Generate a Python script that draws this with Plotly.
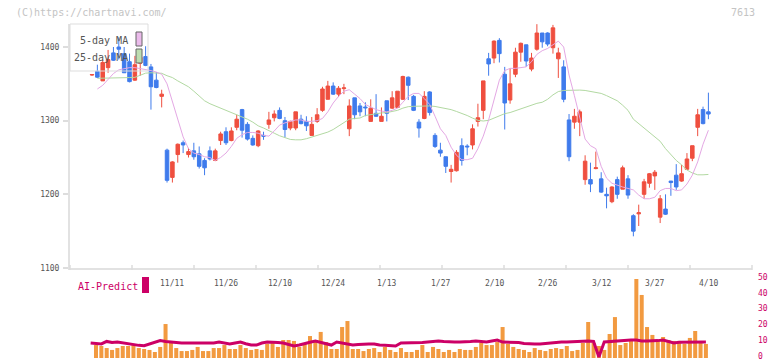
import plotly.graph_objects as go

W, H = 772, 361

# ---------------- data ----------------
opens = [1362,1367,1354,1372,1392,1400,1391,1380,1355,1378,1387,1373,1355,1333,1260,1223,1254,1270,1254,1259,
         1255,1246,1259,1246,1273,1285,1273,1291,1315,1295,1276,1266,1280,1295,1304,1314,1300,1290,1290,1302,
         1299,1280,1299,1314,1329,1347,1336,1343.5,1289,1331,1320,1318.5,1299,1310,1299,1327,1317,1318,1329,1359,
         1333,1298,1303,1339,1280,1260,1251,1231,1232,1266,1265.5,1267,1299,1314,1384,1385,1409,1363,1328,1363,
         1393,1403,1370,1397,1419,1419,1399,1384,1373,1301,1298,1298,1220,1220,1235,1221,1200,1190,1220,1207,
         1221,1171,1173.5,1200,1215,1225,1169,1180,1218,1226,1218,1234,1249,1291,1315,1312]
highs = [1363,1376,1382,1396,1400,1413,1400,1391,1388,1390,1401,1377,1366,1342,1262,1245,1269,1273,1263,1270,
         1265,1249,1265,1262,1285,1291,1291,1308,1316,1298,1280,1287,1285,1312,1314,1318,1305,1300,1312,1308,
         1306,1305,1317,1346,1354,1352,1347,1350,1329,1331,1324,1325,1329,1336,1318,1327,1340,1340,1361,1360,
         1335,1302,1340,1340,1283,1270,1251,1240,1260,1276,1268,1295,1323,1354,1392,1409,1412,1373,1371,1399,
         1406,1403,1392,1431,1419,1420,1430,1399,1382,1309,1316,1315,1253,1243,1258,1230,1209,1211,1224,1239,
         1226,1173,1186,1221,1229,1233,1199,1200,1218,1241,1240,1256,1266,1316,1319,1338]
lows = [1361,1358,1354,1365,1381,1383,1365,1352,1354,1361,1374,1315,1344,1318,1216,1216,1243,1256,1250,1247,
        1235,1226,1246,1245,1267,1267,1272,1287,1277,1273,1266,1264,1274,1289,1299,1302,1277,1287,1287,1295,
        1286,1280,1297,1312,1329,1335,1332,1336,1279,1302,1306,1306,1299,1305,1299,1299,1316,1317,1328,1328,
        1313,1277,1302,1307,1263,1251,1229,1216,1231,1239,1253,1261,1292,1302,1361,1378,1379,1288,1323,1359,
        1380,1373,1367,1395,1399,1401,1391,1358,1325,1245,1289,1279,1213,1203,1234,1202,1181,1188,1194,1207,
        1194,1143,1157,1194,1209,1206,1161,1172,1198,1206,1217,1233,1245,1279,1295,1302]
closes = [1362.5,1359,1379,1383,1382,1397,1365,1353,1376,1386,1375,1346,1345,1336,1219,1244,1268,1267,1258,1251,
          1238,1236,1248,1259,1282,1270,1286,1302,1287,1275,1267,1286,1279,1301,1309,1303,1288,1299,1312,1296,
          1293,1295,1308,1343,1347,1336,1344,1344.5,1320,1308,1312,1317.5,1317,1306,1306,1310,1331,1340,1360,1348,
          1314,1290,1333,1311,1265,1256,1238,1234,1257,1246,1264.5,1289,1304,1354,1377,1408,1391,1324,1350,1393,
          1405,1381,1385,1419,1407,1404,1426,1392,1329,1251,1306,1312,1245,1214,1236,1203,1198,1210,1200,1236,
          1199,1150,1175,1217,1228,1230,1194,1173,1216,1210,1228,1248,1266,1308,1296,1309]

ma5 = [None,1343,1348,1356,1364,1369,1371,1372,1372,1371,1370,1368,1366,1363,1350,1325,1300,1278,1262,1256,
       1254,1251,1250,1246,1250,1256,1265,1276,1281,1284,1284,1283,1280,1279,1286,1294,1297,1299,1301,1301,
       1299,1299,1300,1303,1312,1324,1333,1340,1342,1336,1330,1322,1318,1315,1313,1312,1314,1317,1325,1333,
       1337,1337,1330,1322,1306,1289,1280,1264,1253,1247,1247,1249,1262,1279,1301,1330,1355,1368,1371,1371,
       1372,1373,1380,1390,1395,1398,1403,1408,1400,1362,1334,1305,1275,1266,1262,1238,1222,1215,1212,1210,
       1208,1206,1199,1194,1194,1196,1205,1208,1208,1205,1206,1214,1226,1244,1268,1287]
ma25 = [None,1357.5,1357.5,1357.6,1357.8,1358,1358.2,1358.5,1358.8,1361.5,1364.5,1365,1364.8,1364.3,1361,1358.5,1354,1350,1346,1340,
        1333,1327,1323,1320,1317,1315,1312,1308.5,1305,1302,1298,1293,1290,1287,1283,1279.5,1276.5,1274.5,1274,1274,
        1275.5,1277.5,1279.5,1282,1284.5,1288,1293,1298,1302,1303,1303.6,1307,1308.5,1309.5,1310.5,1311,1312,1314,1317,1319,
        1319.5,1320,1320,1320,1319.3,1318,1317,1315,1312.5,1310,1307,1303.5,1300.5,1299.5,1300.5,1303.5,1307,1309.5,1311,1313.5,
        1316.5,1319,1321.5,1323.5,1325,1329,1335,1339.5,1341,1341.5,1341.5,1341.5,1341,1340,1338.5,1337,1334,1330.5,1327,1321,
        1314,1302,1296,1290,1284,1278,1272,1262,1254,1246,1240,1233,1229,1226.5,1226.5,1227]

vol_tops = [None,225,228,234,240,234,228,228,222,234,237,240,246,231,162,219,234,243,243,240,231,243,243,234,234,225,237,237,225,234,240,237,
            240,222,219,231,210,210,213,231,219,198,213,186,216,237,237,171,153,237,237,243,237,234,246,231,
            240,246,234,246,246,240,225,246,231,237,246,240,246,237,240,240,231,219,225,225,216,171,222,231,237,240,
            246,234,240,243,237,234,237,228,243,240,219,156,219,228,240,192,141,225,219,207,27,75,171,195,213,201,
            210,213,213,222,204,183,213,222]
volume = [None if t is None else round((264 - t) / 4.74, 1) for t in vol_tops]

ai_predict = [9.5,9.2,8.9,10.5,9.8,10.1,9.5,8.9,8.5,8.0,7.8,8.9,10,11,10.5,10.1,9.8,9.5,9.5,9.5,
              9.5,9.5,9.5,9.5,10.1,9.5,8.9,9.5,10.1,9.0,8.2,8.2,9.5,10.1,10.1,9.8,9.5,8.5,7.6,8.2,
              8.9,10,10.8,9.8,8.9,8.2,10.1,9.5,8.9,8.2,8.6,8.9,8.9,8.9,8.2,8.0,7.8,7.6,9.5,9.5,
              9.5,9.5,9.8,10.1,10.4,10.8,10.5,10.1,10.1,10.1,10.1,10.5,10.8,10.5,10.1,10.8,11.4,10.1,10.1,10.1,
              9.8,9.2,8.9,8.9,8.9,9.3,9.7,10.1,10.1,10.1,10.3,10.6,10.8,10.8,10.5,0.6,10.1,10.4,10.8,11,
              11.2,11.4,11.4,10.8,10.8,10.8,11,11.4,10.5,9.5,10,10.1,10.1,10.1,10.1,10.1]

idx = list(range(len(closes)))
date_tick_idx = [15, 25, 35, 45, 55, 65, 75, 85, 95, 105, 115]
date_labels = ["11/11", "11/26", "12/10", "12/24", "1/13", "1/27", "2/10", "2/26", "3/12", "3/27", "4/10"]
price_ticks = [1100, 1200, 1300, 1400]
vol_ticks = [0, 10, 20, 30, 40, 50]

# ---------------- geometry helpers ----------------
def px(x):
    return x / W

def py(y):
    return 1 - y / H

X0, X1 = 70, 752
step = 5.36
xr = [(X0 - 92) / step, (X1 - 92) / step]
step2 = 5.35
xr2 = [(X0 - 90.65) / step2, (X1 - 90.65) / step2]

RED = "#EF4F3F"
BLUE = "#3F7BEC"
PINK = "#E4A8E4"
GREEN = "#B2D9A2"
ORANGE = "#F29A40"
CRIMSON = "#CC0066"
MONO = "DejaVu Sans Mono"

fig = go.Figure()

fig.add_trace(go.Scatter(x=idx, y=ma25, mode="lines", line=dict(color=GREEN, width=1),
                         xaxis="x", yaxis="y", hoverinfo="skip", showlegend=False))
fig.add_trace(go.Scatter(x=idx, y=ma5, mode="lines", line=dict(color=PINK, width=1),
                         xaxis="x", yaxis="y", hoverinfo="skip", showlegend=False))
fig.add_trace(go.Candlestick(x=idx, open=opens, high=highs, low=lows, close=closes,
                             increasing=dict(line=dict(color=RED, width=1), fillcolor=RED),
                             decreasing=dict(line=dict(color=BLUE, width=1), fillcolor=BLUE),
                             whiskerwidth=0, xaxis="x", yaxis="y", showlegend=False))

fig.add_trace(go.Bar(x=idx, y=volume, marker=dict(color=ORANGE, line=dict(width=0)), width=0.75,
                     xaxis="x2", yaxis="y2", showlegend=False))
fig.add_trace(go.Scatter(x=idx, y=ai_predict, mode="lines", line=dict(color=CRIMSON, width=3),
                         xaxis="x2", yaxis="y2", showlegend=False))

shapes = []
for k in range(12):
    xx = X0 + k * (X1 - X0) / 11
    shapes.append(dict(type="line", xref="paper", yref="paper", x0=px(xx), x1=px(xx),
                       y0=py(265), y1=py(270), line=dict(color="#dddddd", width=1.5)))
shapes.append(dict(type="rect", xref="paper", yref="paper", x0=px(70), x1=px(148), y0=py(24), y1=py(71),
                   line=dict(color="#dddddd", width=1), fillcolor="rgba(255,255,255,0)"))
shapes.append(dict(type="rect", xref="paper", yref="paper", x0=px(136), x1=px(142), y0=py(32), y1=py(46),
                   line=dict(color="#666666", width=1), fillcolor="#EBBBEB"))
shapes.append(dict(type="rect", xref="paper", yref="paper", x0=px(136), x1=px(142), y0=py(49), y1=py(63),
                   line=dict(color="#666666", width=1), fillcolor="#BEDDB0"))
shapes.append(dict(type="rect", xref="paper", yref="paper", x0=px(142), x1=px(149), y0=py(277), y1=py(293),
                   line=dict(width=0), fillcolor=CRIMSON))

annotations = []
for i, lab in zip(date_tick_idx, date_labels):
    annotations.append(dict(x=i, y=py(283), xref="x", yref="paper", text=lab, showarrow=False,
                            font=dict(family=MONO, size=8, color="#555555"), xanchor="center", yanchor="middle"))
annotations += [
    dict(x=px(130), y=py(40), xref="paper", yref="paper", text="5-day MA", showarrow=False,
         font=dict(family=MONO, size=10, color="#555555"), xanchor="right", yanchor="middle"),
    dict(x=px(130), y=py(57), xref="paper", yref="paper", text="25-day MA", showarrow=False,
         font=dict(family=MONO, size=10, color="#555555"), xanchor="right", yanchor="middle"),
    dict(x=px(76), y=py(286), xref="paper", yref="paper", text="AI-Predict", showarrow=False,
         font=dict(family=MONO, size=10, color=CRIMSON), xanchor="left", yanchor="middle"),
    dict(x=px(14), y=py(12), xref="paper", yref="paper", text="(C)https://chartnavi.com/", showarrow=False,
         font=dict(family=MONO, size=10, color="#c4c4c4"), xanchor="left", yanchor="middle"),
    dict(x=px(757), y=py(12), xref="paper", yref="paper", text="7613", showarrow=False,
         font=dict(family=MONO, size=10, color="#c4c4c4"), xanchor="right", yanchor="middle"),
]

ytop_price = 1400 + (47 - 24) / 0.7367

fig.update_layout(
    width=W, height=H,
    margin=dict(l=0, r=0, t=0, b=0, pad=0),
    paper_bgcolor="white", plot_bgcolor="white",
    showlegend=False, boxgap=0.06, barmode="overlay",
    xaxis=dict(domain=[px(X0), px(X1)], range=xr, anchor="y", showgrid=False, zeroline=False,
               showticklabels=False, ticks="", showline=True, linecolor="#e2e2e2", linewidth=2,
               rangeslider=dict(visible=False), fixedrange=True, automargin=False),
    yaxis=dict(domain=[py(268), py(24)], range=[1100, ytop_price], anchor="x", showgrid=False, zeroline=False,
               tickvals=price_ticks, ticks="outside", ticklen=5, tickcolor="#dddddd", tickwidth=1.5,
               showline=True, linecolor="#e2e2e2", linewidth=2, automargin=False,
               tickfont=dict(family=MONO, size=8, color="#555555"), ticklabelstandoff=2),
    xaxis2=dict(domain=[px(X0), px(X1)], range=xr2, anchor="y2", visible=False, automargin=False),
    yaxis2=dict(domain=[py(358), py(279)], range=[0, 50], anchor="x2", side="right", showgrid=False,
                zeroline=False, showline=False, ticks="", tickvals=vol_ticks, automargin=False,
                ticklabeloverflow="allow", ticklabelshift=-2,
                tickfont=dict(family=MONO, size=8, color=CRIMSON), ticklabelstandoff=5),
    shapes=shapes, annotations=annotations,
)

fig.write_html("out.html", config={"displayModeBar": False},
               post_script="document.body.style.margin='0px';document.body.style.overflow='hidden';")
